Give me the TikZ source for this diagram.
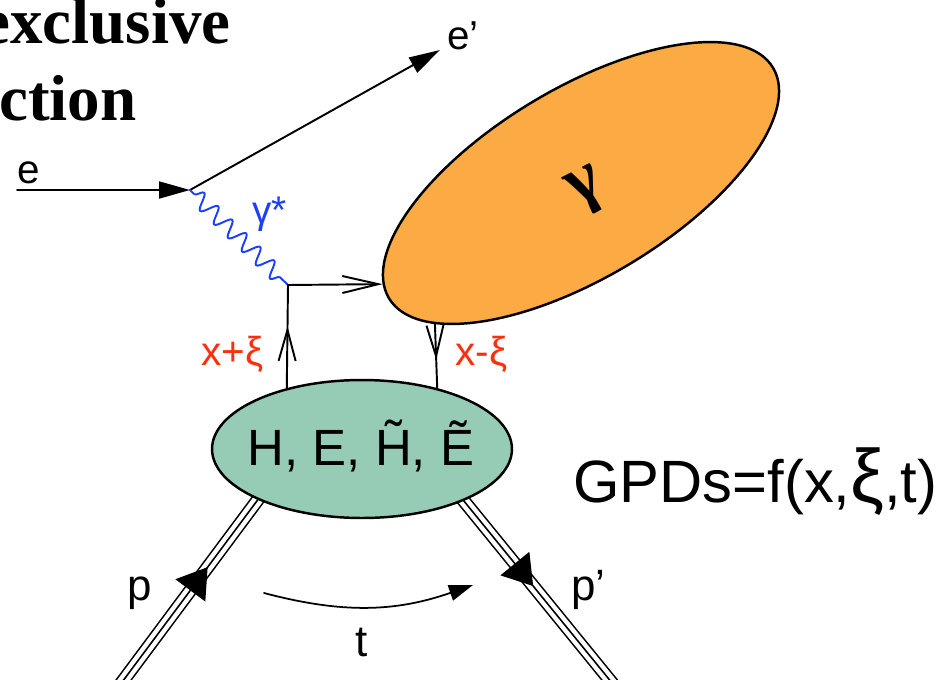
\documentclass[tikz,border=0pt]{standalone}
\usepackage{fontspec}
\setmainfont{Liberation Sans}
\newfontfamily\titlefont{Liberation Serif}
\usetikzlibrary{arrows.meta,shapes.geometric,decorations.pathmorphing,decorations.markings,calc}

\definecolor{blobgreen}{RGB}{150,204,181}
\definecolor{bloborange}{RGB}{251,170,68}
\definecolor{photonblue}{RGB}{28,62,255}
\definecolor{fracred}{RGB}{255,46,12}

\pgfdeclarelayer{background}
\pgfsetlayers{background,main}

\begin{document}
\begin{tikzpicture}[
  x=0.02cm,
  y=-0.02cm,
  line cap=round,
  line join=round,
  title/.style={font=\titlefont\bfseries\fontsize{37}{37}\selectfont,anchor=base west,inner sep=0pt},
  lbl/.style={font=\fontsize{23}{23}\selectfont,anchor=base west,inner sep=0pt},
  fraclbl/.style={lbl,text=fracred},
  blob/.style={ellipse,draw=black,line width=1.4pt,inner sep=0pt},
  lepton/.style={draw=black,line width=1.1pt,-{Triangle[length=0.62cm,width=0.34cm]}},
  quark/.style={draw=black,line width=1.1pt},
  quarkflow/.style={quark,postaction={decorate,decoration={markings,
      mark=at position #1 with {\arrow{Straight Barb[length=0.62cm,width=0.34cm]}}}}},
  photon/.style={draw=photonblue,line width=1.1pt,decorate,
    decoration={snake,segment length=0.39cm,amplitude=0.16cm,pre length=0.12cm,post length=0.12cm}},
  proton/.style={draw=white,line width=5.9pt,line cap=butt,
    preaction={draw=black,line width=7.7pt,line cap=butt},
    postaction={draw=black,line width=0.9pt,line cap=butt}},
  protonflow/.style={proton,postaction={decorate,decoration={markings,
      mark=at position #1 with {\arrow[black,line width=0.8pt]{Triangle[length=0.58cm,width=0.74cm]}}}}}
]
\useasboundingbox (0,0) rectangle (944,680);
\clip (0,0) rectangle (944,680);

% title, cut by the left edge
\node[title] (ttl1) at (-19,43) {exclusive};
\node[title] (ttl2) at (-1,120) {ction};

% the two blobs
\node[blob,fill=bloborange,minimum width=8.96cm,minimum height=3.78cm,rotate=31] (orange) at (581,183) {};
\node[font=\titlefont\bfseries\fontsize{40}{40}\selectfont,rotate=27] (gam) at (587,191) {γ};
\node[blob,fill=blobgreen,minimum width=6cm,minimum height=2.76cm] (gpd) at (362,449) {};
\node[font=\fontsize{29}{29}\selectfont,anchor=base,inner sep=0pt] (gpdtxt) at (361,465) {H, E, \~{H}, \~{E}};

% lepton side
\coordinate (ein) at (17,190);
\coordinate (ev) at (190,190);
\coordinate (eout) at (440,50);
\coordinate (vq) at (288,285);
\draw[lepton] (ein) -- (ev);
\draw[lepton] (ev) -- (eout);
\draw[photon] (ev) -- (vq);
\node[lbl] (elbl) at (17,183) {e};
\node[lbl] (eplbl) at (447,49) {e’};
\node[lbl,text=photonblue,font=\fontsize{22}{22}\selectfont] (glbl) at (252,223) {γ*};

% quark lines
\draw[quark,-{Straight Barb[length=0.72cm,width=0.34cm]}] (vq) -- (orange.176);
\draw[quarkflow=0.6] (gpd.141) -- (vq);
\draw[quarkflow=0.56] (orange.193) -- (gpd.39);
\node[fraclbl] (xplus) at (201,365) {x+ξ};
\node[fraclbl] (xminus) at (455,365) {x-ξ};

% proton lines, tucked under the green blob
\coordinate (pin) at (105,705);
\coordinate (pout) at (630,705);
\begin{pgfonlayer}{background}
  \draw[protonflow=0.64] (pin) -- ($(pin)!1.05!(gpd.206)$);
  \draw[protonflow=0.445] ($(pout)!1.05!(gpd.333)$) -- (pout);
\end{pgfonlayer}
\node[lbl,font=\fontsize{25}{25}\selectfont] (plbl) at (127,600) {p};
\node[lbl,font=\fontsize{25}{25}\selectfont] (pplbl) at (571,600) {p’};

% momentum transfer
\coordinate (tfrom) at (264,593);
\coordinate (tto) at (473,585);
\draw[line width=1pt,-{Triangle[length=0.48cm,width=0.32cm]}] (tfrom) to[bend right=17] (tto);
\node[lbl,anchor=base,font=\fontsize{25}{25}\selectfont] (tlbl) at (362,656) {t};

\node[lbl,font=\fontsize{34}{34}\selectfont] (gpdeq) at (573,502) {GPDs=f(x,{\fontsize{43}{43}\selectfont ξ},t)};
\end{tikzpicture}
\end{document}
